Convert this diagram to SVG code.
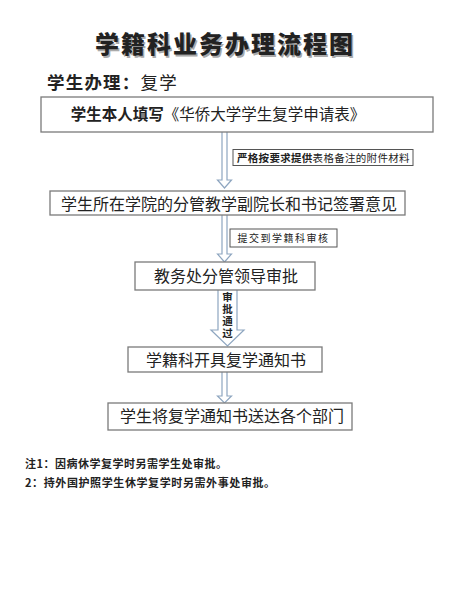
<svg xmlns="http://www.w3.org/2000/svg" width="449" height="600" viewBox="0 0 449 600">
<defs>
<style>
.t{font-family:"Noto Sans CJK SC","Noto Sans",sans-serif;fill:#222}
.box{fill:#fff;stroke:#7a7a7a;stroke-width:1.3}
.lab{fill:#fff;stroke:#555;stroke-width:1}
.arr{fill:#fff;stroke:#8ea6c0;stroke-width:1.2}
</style>
</defs>
<rect width="449" height="600" fill="#fff"/>
<g id="title">
<text class="t" x="226.5" y="54.5" font-size="24" font-weight="900" letter-spacing="2" text-anchor="middle" style="fill:#aaa">学籍科业务办理流程图</text>
<text class="t" x="225" y="53" font-size="24" font-weight="900" letter-spacing="2" text-anchor="middle">学籍科业务办理流程图</text>
</g>
<g id="subtitle">
<text class="t" x="47" y="89" font-size="17.5" letter-spacing="1.2"><tspan font-weight="bold">学生办理：</tspan><tspan>复学</tspan></text>
</g>
<g id="connectors">
<path class="arr" d="M222,132 V180 H217.5 L224.5,188 L231.5,180 H227 V132"/>
<path class="arr" d="M222,215 V254 H217.5 L224.5,262 L231.5,254 H227 V215"/>
<path class="arr" d="M218,290 V330 H211 L227.5,346 L244,330 H237 V290"/>
<path class="arr" d="M222,372 V396 H217.5 L224.5,403 L231.5,396 H227 V372"/>
<g id="label1">
<rect class="lab" x="233" y="149.5" width="180" height="16"/>
<text class="t" x="237" y="161.5" font-size="10.5" letter-spacing="0.3"><tspan font-weight="bold">严格按要求提供</tspan><tspan>表格备注的附件材料</tspan></text>
</g>
<g id="label2">
<rect class="lab" x="230" y="229" width="107" height="18"/>
<text class="t" x="283.5" y="242" font-size="10" text-anchor="middle" letter-spacing="1.5">提交到学籍科审核</text>
</g>
<g id="label3">
<text class="t" x="227.5" y="292" font-size="10.5" font-weight="bold" writing-mode="vertical-rl" letter-spacing="1.5" style="writing-mode:vertical-rl">审批通过</text>
</g>
</g>
<g id="node1">
<rect class="box" x="41" y="97" width="392" height="35"/>
<text class="t" x="218" y="120" font-size="15.5" text-anchor="middle"><tspan font-weight="bold">学生本人填写</tspan><tspan>《华侨大学学生复学申请表》</tspan></text>
</g>
<g id="node2">
<rect class="box" x="50" y="191" width="355" height="24"/>
<text class="t" x="229" y="209.5" font-size="16" text-anchor="middle">学生所在学院的分管教学副院长和书记签署意见</text>
</g>
<g id="node3">
<rect class="box" x="135" y="262" width="180" height="28"/>
<text class="t" x="226" y="281.5" font-size="16" text-anchor="middle">教务处分管领导审批</text>
</g>
<g id="node4">
<rect class="box" x="128" y="347" width="194" height="25"/>
<text class="t" x="226" y="365.5" font-size="16" text-anchor="middle">学籍科开具复学通知书</text>
</g>
<g id="node5">
<rect class="box" x="108" y="403" width="244" height="27"/>
<text class="t" x="232" y="422" font-size="16" text-anchor="middle">学生将复学通知书送达各个部门</text>
</g>
<g id="notes">
<text class="t" x="25" y="468" font-size="11" font-weight="bold" letter-spacing="0.5">注1：因病休学复学时另需学生处审批。</text>
<text class="t" x="25" y="487" font-size="11" font-weight="bold" letter-spacing="0.6">2：持外国护照学生休学复学时另需外事处审批。</text>
</g>
</svg>
